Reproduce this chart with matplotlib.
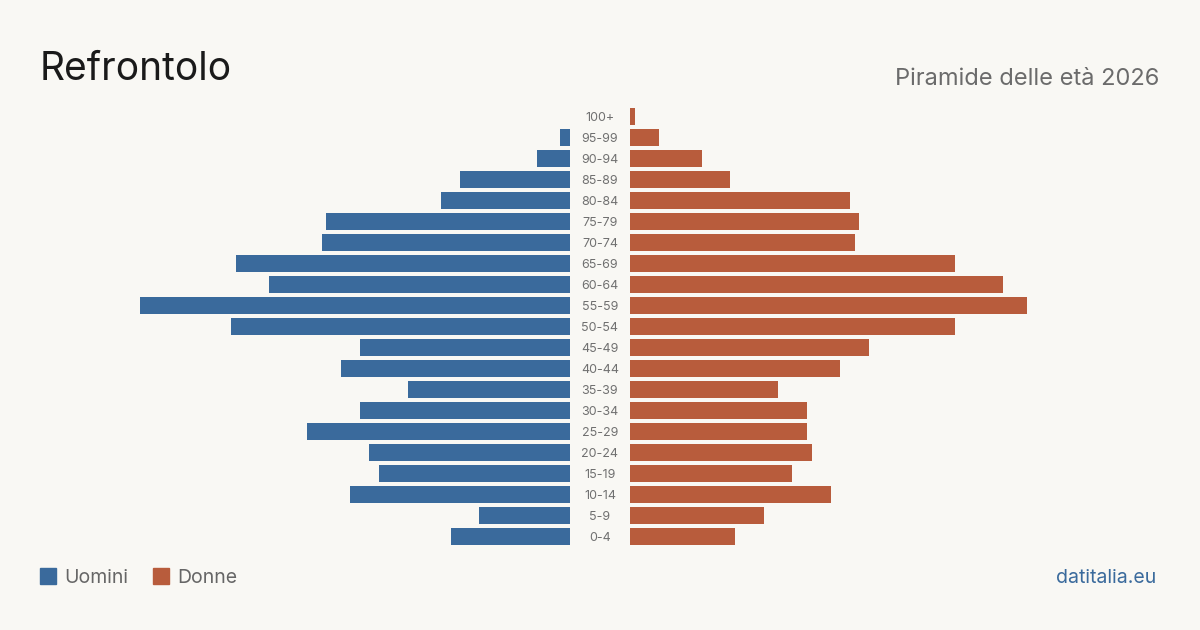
import matplotlib.pyplot as plt
import numpy as np
from matplotlib.patches import Rectangle

plt.rcParams['font.family'] = ['Inter', 'DejaVu Sans']

# age classes, bottom to top
eta = ['0-4', '5-9', '10-14', '15-19', '20-24', '25-29', '30-34', '35-39',
       '40-44', '45-49', '50-54', '55-59', '60-64', '65-69', '70-74',
       '75-79', '80-84', '85-89', '90-94', '95-99', '100+']
uomini = [25, 19, 46, 40, 42, 55, 44, 34, 48, 44, 71, 90, 63, 70, 52,
          51, 27, 23, 7, 2, 0]
donne = [22, 28, 42, 34, 38, 37, 37, 31, 44, 50, 68, 83, 78, 68, 47,
         48, 46, 21, 15, 6, 1]

BG = '#f9f8f4'
BLU = '#3a6a9c'
ROSSO = '#b85c3c'

W, H = 1200, 630
fig = plt.figure(figsize=(12, 6.3), dpi=100, facecolor=BG)

px_per_unit = 430 / 90
span = 530 / px_per_unit
bottom = 1 - 547 / H
height = 441 / H

axL = fig.add_axes([40 / W, bottom, 530 / W, height])
axR = fig.add_axes([630 / W, bottom, 530 / W, height])

y = np.arange(len(eta))
axL.barh(y, uomini, height=17 / 21, color=BLU)
axR.barh(y, donne, height=17 / 21, color=ROSSO)
axL.set_xlim(span, 0)
axR.set_xlim(0, span)
for ax in (axL, axR):
    ax.set_ylim(-0.5, len(eta) - 0.5)
    ax.axis('off')
    ax.set_facecolor('none')

# age labels in the middle gap
for i, lab in enumerate(eta):
    yy = bottom + (i + 0.5) / len(eta) * height - 1.2 / H
    fig.text(600 / W, yy, lab, ha='center', va='center', fontsize=9, color='#707070')

fig.text(40 / W, 1 - 80 / H, 'Refrontolo', fontsize=28, color='#1a1a1a',
         ha='left', va='baseline')
fig.text(1159 / W, 1 - 85 / H, 'Piramide delle età 2026', fontsize=17,
         color='#6b6b6b', ha='right', va='baseline')

# legend
for x0, col, lab in [(40, BLU, 'Uomini'), (153, ROSSO, 'Donne')]:
    fig.patches.append(Rectangle((x0 / W, 1 - 584 / H), 16 / W, 16 / H,
                                 transform=fig.transFigure, color=col))
    fig.text((x0 + 24) / W, 1 - 583 / H, lab, fontsize=14, color='#666666',
             ha='left', va='baseline')

fig.text(1156 / W, 1 - 583 / H, 'datitalia.eu', fontsize=14, color=BLU,
         ha='right', va='baseline')

fig.savefig('out.png', dpi=100, facecolor=BG)
